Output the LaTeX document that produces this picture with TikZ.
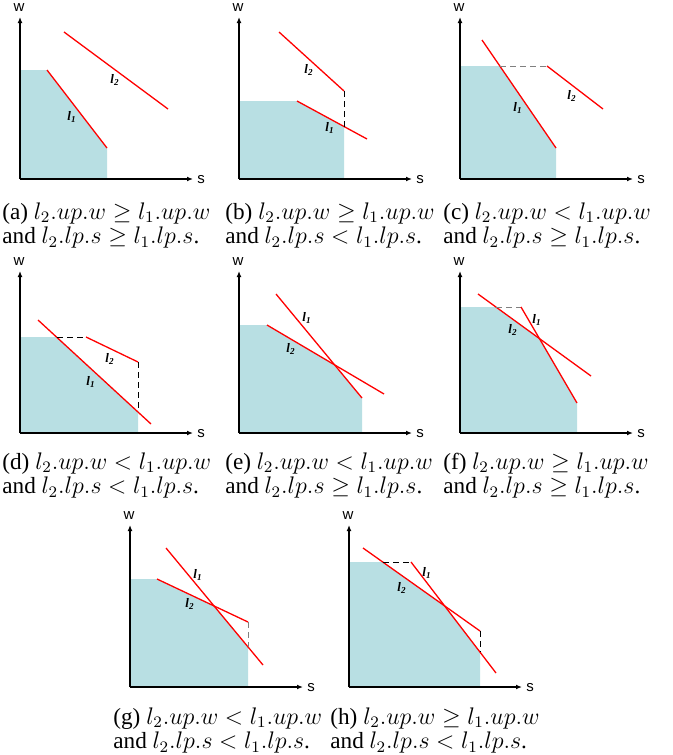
\documentclass[tikz,border=0pt]{standalone}
\usepackage{amsmath,amssymb}
\usepackage[no-math]{fontspec}
\setmainfont{Liberation Serif}
\setsansfont{Liberation Sans}
\usepackage{tikz}
\usetikzlibrary{arrows.meta}

\definecolor{regionblue}{RGB}{184,223,227}

\begin{document}
\begin{tikzpicture}[
  x=0.5pt, y=-0.5pt,
  axis/.style  ={-{Latex[length=3pt,width=2.4pt]}, line width=0.65pt},
  bound/.style ={red, line width=0.65pt},
  region/.style={fill=regionblue, draw=none},
  guide/.style ={densely dashed, line width=0.45pt},
  lbl/.style   ={font=\fontsize{6.5}{7}\selectfont\bfseries\itshape, inner sep=0pt},
  axlbl/.style ={font=\sffamily\fontsize{7.5}{8}\selectfont, inner sep=0pt},
  capt/.style  ={font=\fontsize{11.6}{12.4}\selectfont, align=left,
                 anchor=north west, inner sep=0pt}
]
\useasboundingbox (0,0) rectangle (673,755);

%% --- (a) ------------------------------------------------------
\fill[region] (20,179) -- (20,70) -- (47,70) -- (107,148) -- (107,179) -- cycle;
\draw[bound] (47,70) -- (107,148);
\draw[bound] (64,32) -- (168,109);
\node[lbl] (l1a) at (72,117) {l\textsubscript{1}};
\node[lbl] (l2a) at (115,80) {l\textsubscript{2}};

%% --- (b) ------------------------------------------------------
\fill[region] (239,179) -- (239,101) -- (297,101) -- (344,127) -- (344,179) -- cycle;
\draw[bound] (297,101) -- (367,139);
\draw[bound] (279,32) -- (344,91);
\draw[guide] (344,91) -- (344,127);
\node[lbl] (l1b) at (330,128) {l\textsubscript{1}};
\node[lbl] (l2b) at (309,70) {l\textsubscript{2}};

%% --- (c) ------------------------------------------------------
\fill[region] (460,179) -- (460,66) -- (500,66) -- (556,148) -- (556,179) -- cycle;
\draw[bound] (482,40) -- (556,148);
\draw[guide, gray] (500,66) -- (547,66);
\draw[bound] (547,66) -- (603,109);
\node[lbl] (l1c) at (518,108) {l\textsubscript{1}};
\node[lbl] (l2c) at (572,96) {l\textsubscript{2}};

%% --- (d) ------------------------------------------------------
\fill[region] (20,433) -- (20,337) -- (57,337) -- (138,412) -- (138,433) -- cycle;
\draw[bound] (38,320) -- (151,424);
\draw[guide] (57,337) -- (86,337);
\draw[bound] (86,337) -- (138,362);
\draw[guide] (138,362) -- (138,412);
\node[lbl] (l1d) at (91,382) {l\textsubscript{1}};
\node[lbl] (l2d) at (110,359) {l\textsubscript{2}};

%% --- (e) ------------------------------------------------------
\fill[region] (239,433) -- (239,325) -- (267,325) -- (333,364) -- (362,398)
              -- (362,433) -- cycle;
\draw[bound] (276,294) -- (362,398);
\draw[bound] (267,325) -- (384,394);
\node[lbl] (l1e) at (307,318) {l\textsubscript{1}};
\node[lbl] (l2e) at (291,349) {l\textsubscript{2}};

%% --- (f) ------------------------------------------------------
\fill[region] (460,433) -- (460,307) -- (496,307) -- (540,339) -- (577,403)
              -- (577,433) -- cycle;
\draw[bound] (478,294) -- (591,376);
\draw[guide, gray] (496,307) -- (521,307);
\draw[bound] (521,307) -- (577,403);
\node[lbl] (l1f) at (537,320) {l\textsubscript{1}};
\node[lbl] (l2f) at (513,330) {l\textsubscript{2}};

%% --- (g) ------------------------------------------------------
\fill[region] (130,687) -- (130,579) -- (157,579) -- (214,606) -- (248,647)
              -- (248,687) -- cycle;
\draw[bound] (166,548) -- (263,665);
\draw[bound] (157,579) -- (248,622);
\draw[guide, gray] (248,622) -- (248,647);
\node[lbl] (l1g) at (198,575) {l\textsubscript{1}};
\node[lbl] (l2g) at (190,604) {l\textsubscript{2}};

%% --- (h) ------------------------------------------------------
\fill[region] (349,687) -- (349,562) -- (383,562) -- (445,606) -- (480,652)
              -- (480,687) -- cycle;
\draw[bound] (363,548) -- (480,631);
\draw[guide] (383,562) -- (411,562);
\draw[bound] (411,562) -- (496,673);
\draw[guide] (480,631) -- (480,652);
\node[lbl] (l1h) at (427,573) {l\textsubscript{1}};
\node[lbl] (l2h) at (402,588) {l\textsubscript{2}};

%% --- Axes -----------------------------------------------------
\foreach \ox/\oy/\n in {20/179/a, 239/179/b, 460/179/c,
                        20/433/d, 239/433/e, 460/433/f,
                        130/687/g, 349/687/h} {
  \draw[axis] (\ox,\oy) -- (\ox,\oy-162);
  \draw[axis] (\ox,\oy) -- (\ox+173,\oy);
  \node[axlbl] (w\n) at (\ox-1,\oy-171) {w};
  \node[axlbl] (s\n) at (\ox+181,\oy+1) {s};
}

%% --- Captions -------------------------------------------------
\node[capt] (capa) at (2,202)
     {(a) $l_2.up.w \geq l_1.up.w$\\and $l_2.lp.s \geq l_1.lp.s$.};
\node[capt] (capb) at (225,202)
     {(b) $l_2.up.w \geq l_1.up.w$\\and $l_2.lp.s < l_1.lp.s$.};
\node[capt] (capc) at (443,202)
     {(c) $l_2.up.w < l_1.up.w$\\and $l_2.lp.s \geq l_1.lp.s$.};
\node[capt] (capd) at (2,452)
     {(d) $l_2.up.w < l_1.up.w$\\and $l_2.lp.s < l_1.lp.s$.};
\node[capt] (cape) at (225,452)
     {(e) $l_2.up.w < l_1.up.w$\\and $l_2.lp.s \geq l_1.lp.s$.};
\node[capt] (capf) at (443,452)
     {(f) $l_2.up.w \geq l_1.up.w$\\and $l_2.lp.s \geq l_1.lp.s$.};
\node[capt] (capg) at (113,707)
     {(g) $l_2.up.w < l_1.up.w$\\and $l_2.lp.s < l_1.lp.s$.};
\node[capt] (caph) at (330,707)
     {(h) $l_2.up.w \geq l_1.up.w$\\and $l_2.lp.s < l_1.lp.s$.};

\end{tikzpicture}
\end{document}
